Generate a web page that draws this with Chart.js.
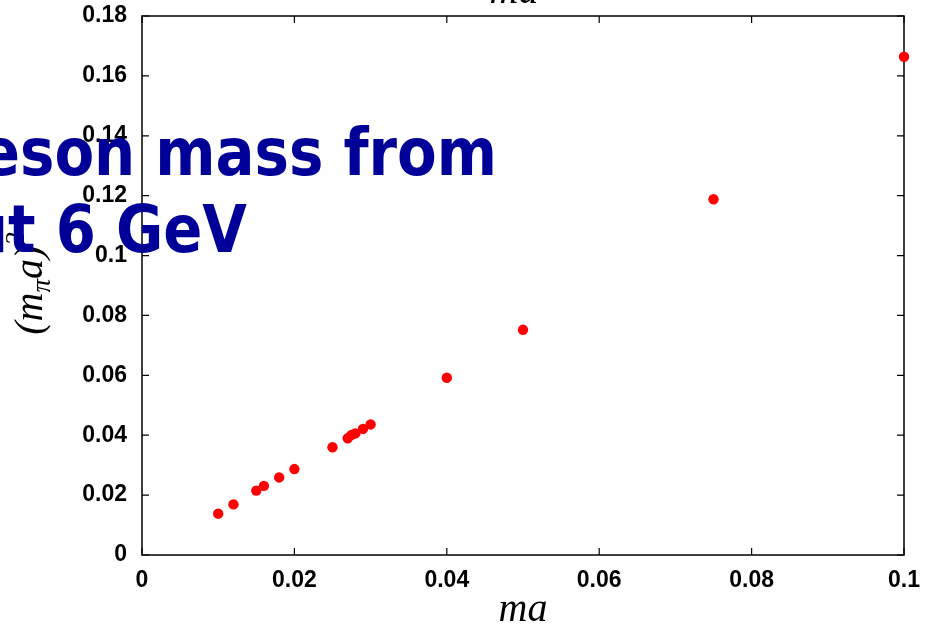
<!DOCTYPE html>
<html><head><meta charset="utf-8">
<script src="https://cdn.jsdelivr.net/npm/chart.js@4"></script>
<style>html,body{margin:0;padding:0;background:#fff;overflow:hidden}#wrap{width:941px;height:631px;position:relative;background:#fff}</style>
</head><body><div id="wrap"><canvas id="c" width="941" height="631"></canvas></div>
<script>
// ---- data ----
const maValues    = [0.010, 0.012, 0.015, 0.016, 0.018, 0.020, 0.025, 0.027, 0.0275, 0.028, 0.029, 0.030, 0.040, 0.050, 0.075, 0.100];
const mpiaSquared = [0.0138, 0.0169, 0.0215, 0.0231, 0.0259, 0.0287, 0.0360, 0.0390, 0.0401, 0.0406, 0.0421, 0.0436, 0.0592, 0.0752, 0.1188, 0.1664];
const xTickValues = [0, 0.02, 0.04, 0.06, 0.08, 0.1];
const xTickLabels = ['0', '0.02', '0.04', '0.06', '0.08', '0.1'];
const yTickValues = [0, 0.02, 0.04, 0.06, 0.08, 0.1, 0.12, 0.14, 0.16, 0.18];
const yTickLabels = ['0', '0.02', '0.04', '0.06', '0.08', '0.1', '0.12', '0.14', '0.16', '0.18'];
const xAxisTitle = 'ma';
const topAxisTitle = 'ma';
const yTitleParts = ['(', 'm', 'π', 'a', ')', '2'];
const overlayLines = ['eson mass from', 'ut 6 GeV'];

const points = maValues.map((v, i) => ({x: v, y: mpiaSquared[i]}));

const framePlugin = {
  id: 'frame',
  beforeDatasetsDraw(chart) {
    const {ctx, chartArea: a, scales: {x, y}} = chart;
    ctx.save();
    ctx.strokeStyle = '#000';
    ctx.lineWidth = 1.5;
    ctx.strokeRect(a.left, a.top, a.right - a.left, a.bottom - a.top);
    ctx.lineWidth = 1.2;
    ctx.beginPath();
    const L = 7;
    xTickValues.forEach(v => {
      const px = x.getPixelForValue(v);
      ctx.moveTo(px, a.bottom); ctx.lineTo(px, a.bottom - L);
      ctx.moveTo(px, a.top); ctx.lineTo(px, a.top + L);
    });
    yTickValues.forEach(v => {
      const py = y.getPixelForValue(v);
      ctx.moveTo(a.left, py); ctx.lineTo(a.left + L, py);
      ctx.moveTo(a.right, py); ctx.lineTo(a.right - L, py);
    });
    ctx.stroke();
    ctx.restore();
  },
  afterDraw(chart) {
    const {ctx, chartArea: a} = chart;
    // top (clipped) axis title
    ctx.save();
    ctx.fillStyle = '#000';
    ctx.font = 'italic 40px "Liberation Serif", "Times New Roman", serif';
    ctx.textAlign = 'center';
    ctx.textBaseline = 'alphabetic';
    ctx.fillText(topAxisTitle, 514, 3);
    ctx.restore();

    // y-axis title with subscript / superscript
    ctx.save();
    ctx.fillStyle = '#000';
    ctx.translate(42, (a.top + a.bottom) / 2 - 2);
    ctx.rotate(-Math.PI / 2);
    ctx.textBaseline = 'alphabetic';
    ctx.textAlign = 'left';
    const main = 'italic 40px "Liberation Serif", "Times New Roman", serif';
    const small = 'italic 27px "Liberation Serif", "Times New Roman", serif';
    const styles = [[main, 0], [main, 0], [small, 8], [main, 0], [main, 0], [small, -18]];
    let total = 0;
    const widths = yTitleParts.map((t, i) => { ctx.font = styles[i][0]; const w = ctx.measureText(t).width; total += w; return w; });
    let cx = -total / 2;
    yTitleParts.forEach((t, i) => { ctx.font = styles[i][0]; ctx.fillText(t, cx, styles[i][1]); cx += widths[i]; });
    ctx.restore();

    // overlaid slide title text
    ctx.save();
    ctx.fillStyle = '#000099';
    ctx.font = 'bold 66px "DejaVu Sans", Verdana, sans-serif';
    ctx.textBaseline = 'alphabetic';
    ctx.textAlign = 'left';
    const w1 = ctx.measureText(overlayLines[0].slice(1)).width;
    const w2 = ctx.measureText(overlayLines[1].slice(1)).width;
    const sx1 = 477 / w1, sx2 = 239 / w2;
    const full1 = ctx.measureText(overlayLines[0]).width;
    const full2 = ctx.measureText(overlayLines[1]).width;
    ctx.save(); ctx.translate(497, 175); ctx.scale(sx1, 1); ctx.fillText(overlayLines[0], -full1, 0); ctx.restore();
    ctx.save(); ctx.translate(247, 252); ctx.scale(sx2, 1); ctx.fillText(overlayLines[1], -full2, 0); ctx.restore();
    ctx.restore();
  }
};

const tickFont = {family: '"Liberation Sans", Arial, sans-serif', size: 23, weight: 'bold'};

new Chart(document.getElementById('c'), {
  type: 'scatter',
  data: {
    datasets: [{
      data: points,
      pointRadius: 5.2,
      pointHoverRadius: 5.2,
      pointBackgroundColor: '#ff0000',
      pointBorderWidth: 0,
      borderWidth: 0,
      showLine: false,
      clip: false
    }]
  },
  options: {
    responsive: false,
    animation: false,
    devicePixelRatio: 1,
    layout: {padding: {left: 0, top: 16, right: 37, bottom: 0}},
    plugins: {legend: {display: false}, tooltip: {enabled: false}},
    scales: {
      x: {
        type: 'linear', min: 0, max: 0.1,
        grid: {display: false, drawTicks: false},
        border: {display: false},
        afterBuildTicks: s => { s.ticks = xTickValues.map(v => ({value: v})); },
        afterFit: s => { s.height = 76; s.paddingLeft = 0; s.paddingRight = 0; },
        ticks: {
          color: '#000', font: tickFont, padding: 12, maxRotation: 0, autoSkip: false,
          callback: (v, i) => xTickLabels[i]
        },
        title: {
          display: true, text: xAxisTitle, color: '#000',
          font: {family: '"Liberation Serif", "Times New Roman", serif', size: 40, style: 'italic', lineHeight: 1.2},
          padding: {top: 0, bottom: -3}
        }
      },
      y: {
        type: 'linear', min: 0, max: 0.18,
        grid: {display: false, drawTicks: false},
        border: {display: false},
        afterBuildTicks: s => { s.ticks = yTickValues.map(v => ({value: v})); },
        afterFit: s => { s.width = 142; s.paddingTop = 0; s.paddingBottom = 0; },
        ticks: {
          color: '#000', font: tickFont, padding: 15, autoSkip: false,
          callback: (v, i) => yTickLabels[i]
        },
        title: {display: false, text: '(mπa)²'}
      }
    }
  },
  plugins: [framePlugin]
});
</script>
</body></html>
